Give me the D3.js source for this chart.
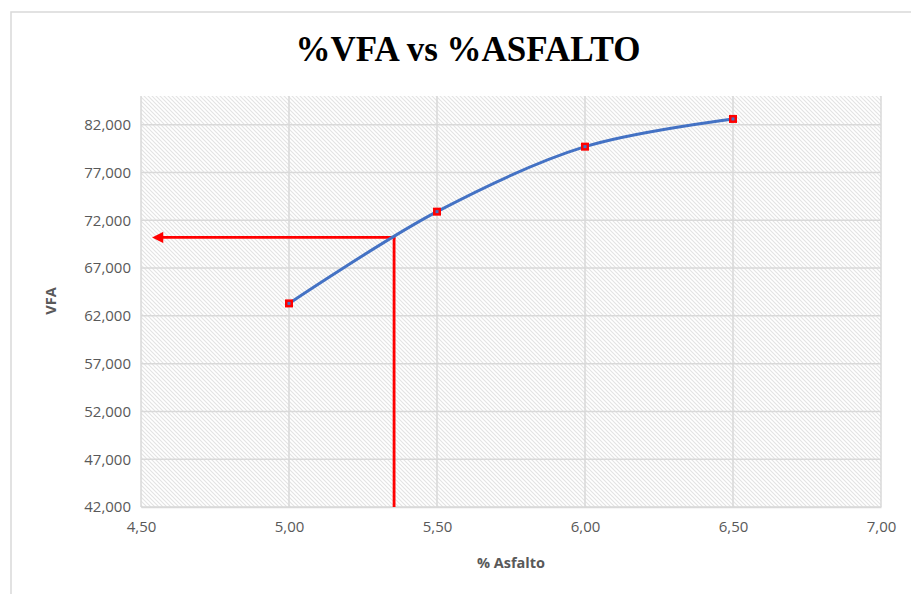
<!DOCTYPE html>
<html>
<head>
<meta charset="utf-8">
<script src="https://cdn.jsdelivr.net/npm/d3@7"></script>
<style>
  html, body { margin: 0; padding: 0; background: #fff; }
  svg { display: block; }
</style>
</head>
<body>
<svg id="chart" width="911" height="594"></svg>
<script>
// Measured VFA against asphalt content
const asfalto = [5.00, 5.50, 6.00, 6.50];
const vfa = [63300, 72900, 79700, 82600];

// Reading taken off the curve (optimum asphalt content)
const lectura = { x: 5.355, y: 70200 };

const xTicks = [4.5, 5.0, 5.5, 6.0, 6.5, 7.0];
const yTicks = [42000, 47000, 52000, 57000, 62000, 67000, 72000, 77000, 82000];

const svg = d3.select("#chart");
const W = 911, H = 594;
const plot = { left: 141, right: 881, top: 96, bottom: 507 };

const x = d3.scaleLinear().domain([4.5, 7.0]).range([plot.left, plot.right]);
const y = d3.scaleLinear().domain([42000, 85000]).range([plot.bottom, plot.top]);

// chart frame
svg.append("rect")
  .attr("x", 11).attr("y", 12).attr("width", W + 20).attr("height", H + 20)
  .attr("fill", "#fff").attr("stroke", "#d9d9d9").attr("stroke-width", 1.5);

// diagonal hatch fill of the plot area
const defs = svg.append("defs");
const pat = defs.append("pattern")
  .attr("id", "hatch").attr("patternUnits", "userSpaceOnUse")
  .attr("width", 4).attr("height", 4);
pat.append("rect").attr("width", 4).attr("height", 4).attr("fill", "#fff");
pat.append("path")
  .attr("d", "M-1,-1 L5,5 M-1,3 L1,5 M3,-1 L5,1")
  .attr("stroke", "#e3e3e3").attr("stroke-width", 1.1);

svg.append("rect")
  .attr("x", plot.left).attr("y", plot.top)
  .attr("width", plot.right - plot.left).attr("height", plot.bottom - plot.top)
  .attr("fill", "url(#hatch)");

// gridlines
const grid = svg.append("g").attr("stroke", "#d9d9d9").attr("stroke-width", 1.5);
grid.selectAll(".gx").data(xTicks).join("line")
  .attr("x1", d => x(d)).attr("x2", d => x(d))
  .attr("y1", plot.top).attr("y2", plot.bottom);
grid.selectAll(".gy").data(yTicks).join("line")
  .attr("x1", plot.left).attr("x2", plot.right)
  .attr("y1", d => y(d)).attr("y2", d => y(d));

// axes
const fmtX = d => d3.format(".2f")(d).replace(".", ",");
const yLabel = d => d3.format(",")(d);

const xAxis = svg.append("g")
  .attr("transform", `translate(0,${plot.bottom})`)
  .call(d3.axisBottom(x).tickValues(xTicks).tickSize(0).tickPadding(12).tickFormat(fmtX));
xAxis.select(".domain").attr("stroke", "#d9d9d9").attr("stroke-width", 1.5);

const yAxis = svg.append("g")
  .attr("transform", `translate(${plot.left},0)`)
  .call(d3.axisLeft(y).tickValues(yTicks).tickSize(0).tickPadding(10).tickFormat(yLabel));
yAxis.select(".domain").remove();

svg.selectAll(".tick text")
  .attr("fill", "#595959")
  .style("font-family", "'Open Sans', 'Liberation Sans', sans-serif")
  .style("font-size", "15px");
xAxis.selectAll(".tick text").attr("dy", "0.85em");

// titles
svg.append("text")
  .attr("x", 468).attr("y", 61).attr("text-anchor", "middle")
  .style("font-family", "'Liberation Serif', 'Times New Roman', serif")
  .style("font-weight", "bold").style("font-size", "35px")
  .attr("fill", "#000").text("%VFA vs %ASFALTO");

svg.append("text")
  .attr("x", 511).attr("y", 568).attr("text-anchor", "middle")
  .style("font-family", "'Open Sans', 'Liberation Sans', sans-serif")
  .style("font-weight", "bold").style("font-size", "14.5px")
  .attr("fill", "#595959").text("% Asfalto");

svg.append("text")
  .attr("transform", "translate(56,301) rotate(-90)")
  .attr("text-anchor", "middle")
  .style("font-family", "'Open Sans', 'Liberation Sans', sans-serif")
  .style("font-weight", "bold").style("font-size", "14.5px")
  .attr("fill", "#595959").text("VFA");

// reading guide lines with arrow
defs.append("marker")
  .attr("id", "arrow").attr("viewBox", "0 0 10 10")
  .attr("refX", 2).attr("refY", 5)
  .attr("markerWidth", 5).attr("markerHeight", 4)
  .attr("orient", "auto-start-reverse")
  .append("path").attr("d", "M0,0 L10,5 L0,10 Z").attr("fill", "#ff0000");

svg.append("line")
  .attr("x1", x(lectura.x)).attr("x2", x(lectura.x))
  .attr("y1", y(42000)).attr("y2", y(lectura.y))
  .attr("stroke", "#ff0000").attr("stroke-width", 2.8);
svg.append("line")
  .attr("x1", x(lectura.x) + 1.4).attr("x2", x(4.5) + 20)
  .attr("y1", y(lectura.y)).attr("y2", y(lectura.y))
  .attr("stroke", "#ff0000").attr("stroke-width", 2.8)
  .attr("marker-end", "url(#arrow)");

// smoothed series
const pts = asfalto.map((a, i) => [a, vfa[i]]);
svg.append("path")
  .datum(pts)
  .attr("fill", "none").attr("stroke", "#4472c4").attr("stroke-width", 3)
  .attr("stroke-linecap", "round")
  .attr("d", d3.line().x(d => x(d[0])).y(d => y(d[1])).curve(d3.curveCatmullRom.alpha(0.5)));

svg.selectAll(".pt").data(pts).join("rect")
  .attr("x", d => x(d[0]) - 4).attr("y", d => y(d[1]) - 4)
  .attr("width", 8).attr("height", 8)
  .attr("fill", "#ff0000");
svg.selectAll(".ptc").data(pts).join("rect")
  .attr("x", d => x(d[0]) - 1.5).attr("y", d => y(d[1]) - 1.5)
  .attr("width", 3).attr("height", 3)
  .attr("fill", "#4472c4");
</script>
</body>
</html>
